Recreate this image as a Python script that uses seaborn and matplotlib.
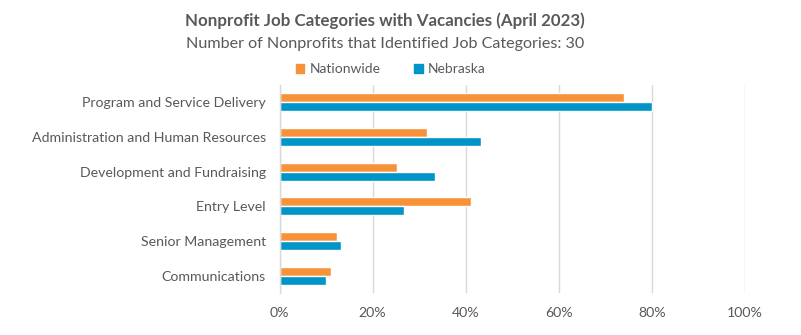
import matplotlib
matplotlib.use("Agg")
import matplotlib.pyplot as plt
import seaborn as sns
import pandas as pd
from matplotlib.ticker import PercentFormatter

categories = [
    "Program and Service Delivery",
    "Administration and Human Resources",
    "Development and Fundraising",
    "Entry Level",
    "Senior Management",
    "Communications",
]
nationwide = [74.0, 31.6, 25.2, 41.1, 12.4, 11.0]
nebraska = [80.0, 43.3, 33.3, 26.7, 13.3, 10.0]
series_names = ["Nationwide", "Nebraska"]
x_ticks = [0, 20, 40, 60, 80, 100]

df = pd.DataFrame({
    "Category": categories * 2,
    "Share": nationwide + nebraska,
    "Region": [series_names[0]] * len(categories) + [series_names[1]] * len(categories),
})

sns.set_theme(style="white")
plt.rcParams["font.family"] = ["Lato", "DejaVu Sans"]

text_color = "#595959"
palette = {"Nationwide": "#F79239", "Nebraska": "#0095C8"}

fig = plt.figure(figsize=(8.01, 3.35), dpi=100)
ax = fig.add_axes([0.349, 0.125, 0.581, 0.621])

sns.barplot(data=df, y="Category", x="Share", hue="Region", order=categories,
            hue_order=series_names, palette=palette, orient="h", width=0.52,
            saturation=1, ax=ax, legend=False)

ax.set_xlim(0, 100)
ax.set_ylim(5.5, -0.5)
ax.set_xticks(x_ticks)
ax.xaxis.set_major_formatter(PercentFormatter(decimals=0))
ax.grid(axis="x", color="#d9d9d9", linewidth=1)
ax.set_axisbelow(True)
for s in ["top", "right", "bottom"]:
    ax.spines[s].set_visible(False)
ax.spines["left"].set_color("#d9d9d9")
ax.spines["left"].set_linewidth(1)
ax.set_xlabel("")
ax.set_ylabel("")
ax.tick_params(axis="both", length=0, colors=text_color, labelsize=10.2)
ax.tick_params(axis="y", pad=10)
ax.tick_params(axis="x", pad=10)

fig.text(0.481, 0.938, "Nonprofit Job Categories with Vacancies (April 2023)",
         ha="center", va="center", fontsize=12.2, fontweight="bold", color=text_color)
fig.text(0.481, 0.868, "Number of Nonprofits that Identified Job Categories: 30",
         ha="center", va="center", fontsize=11.6, color=text_color)

handles = [plt.Rectangle((0, 0), 1, 1, color=palette[n]) for n in series_names]
fig.legend(handles, series_names, loc="center", bbox_to_anchor=(0.488, 0.793), ncol=2,
           frameon=False, fontsize=10, labelcolor=text_color, handlelength=0.6,
           handleheight=0.6, handletextpad=0.4, columnspacing=2.4)

fig.savefig("out.png", dpi=100)
